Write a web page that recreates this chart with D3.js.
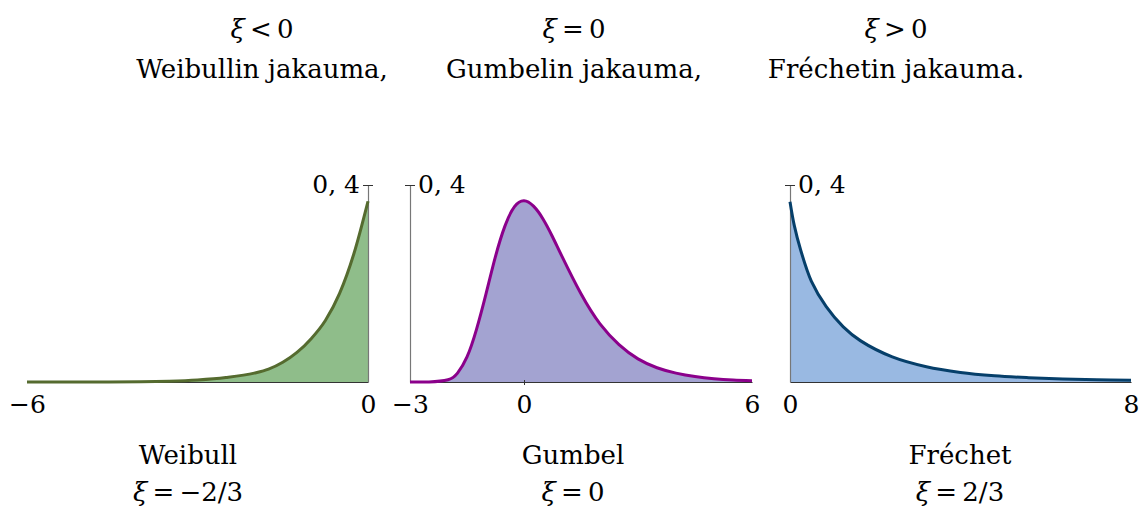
<!DOCTYPE html>
<html>
<head>
<meta charset="utf-8">
<script src="https://cdn.jsdelivr.net/npm/d3@7"></script>
<style>
  body { margin: 0; background: #fff; }
  svg text { font-family: "DejaVu Serif", "Liberation Serif", "Times New Roman", serif; fill: #000; }
  .math { font-style: italic; }
</style>
</head>
<body>
<div class="chart"></div>
<script>
// GEV DENSITIES - three panels
// values

const weibullX = [-6, -5, -4, -3.5, -3, -2.5, -2, -1.75, -1.5, -1.25, -1, -0.75, -0.5, -0.25, 0];
const weibullY = [0, 0.0001, 0.0005, 0.0015, 0.004, 0.009, 0.018, 0.026, 0.040, 0.060, 0.088, 0.125, 0.18, 0.26, 0.367];

const gumbelX = [-3, -2.5, -2, -1.75, -1.5, -1.25, -1, -0.75, -0.5, -0.25, 0, 0.25, 0.5, 0.75, 1, 1.5, 2, 2.5, 3, 3.5, 4, 4.5, 5, 5.5, 6];
const gumbelY = [0, 0.0001, 0.0046, 0.018, 0.051, 0.107, 0.179, 0.255, 0.317, 0.356, 0.368, 0.357, 0.331, 0.295, 0.255, 0.179, 0.118, 0.076, 0.047, 0.029, 0.018, 0.011, 0.0067, 0.0041, 0.0025];

const frechetX = [0, 0.1, 0.25, 0.5, 0.85, 1.25, 1.65, 2.4, 3.2, 4, 4.8, 5.6, 6.4, 7.2, 8];
const frechetY = [0.366, 0.318, 0.268, 0.205, 0.153, 0.112, 0.084, 0.051, 0.031, 0.0195, 0.0128, 0.0088, 0.006, 0.0045, 0.0035];

const xTicks = [[-6, 0], [-3, 0, 6], [0, 8]];
const yTicks = [0.4];

const topMath = ['ξ < 0', 'ξ = 0', 'ξ > 0'];
const topNames = ['Weibullin jakauma,', 'Gumbelin jakauma,', 'Fréchetin jakauma.'];
const bottomNames = ['Weibull', 'Gumbel', 'Fréchet'];
const bottomMath = ['ξ = −2/3', 'ξ = 0', 'ξ = 2/3'];

const width = 1139;
const height = 508;

const svg = d3.select('.chart')
  .append('svg')
    .attr('width', width)
    .attr('height', height);

// panel layout (pixel boxes)
const baseY = 382;
const topY = 185;
const panels = [
  { x: weibullX, y: weibullY, left: 27, right: 368, axisAt: 'right', fill: '#8fbd8a', stroke: '#556b2f', labelX: 262, bottomX: 188, curve: d3.curveMonotoneX },
  { x: gumbelX, y: gumbelY, left: 410, right: 752, axisAt: 'left', fill: '#a3a3d1', stroke: '#8b008b', labelX: 574, bottomX: 573, curve: d3.curveNatural },
  { x: frechetX, y: frechetY, left: 790, right: 1131, axisAt: 'left', fill: '#99b9e2', stroke: '#063f6a', labelX: 896, bottomX: 960, curve: d3.curveCatmullRom.alpha(0.5) }
];

const fontStack = '"DejaVu Serif", "Liberation Serif", serif';

panels.forEach((p, i) => {
  const data = p.x.map((v, j) => ({ x: v, y: p.y[j] }));

  const xScale = d3.scaleLinear()
    .domain(d3.extent(p.x))
    .range([p.left, p.right]);

  const yScale = d3.scaleLinear()
    .domain([0, 0.4])
    .range([baseY, topY]);

  const area = d3.area()
    .x(d => xScale(d.x))
    .y0(baseY)
    .y1(d => Math.min(baseY, yScale(d.y)))
    .curve(p.curve);

  const line = d3.line()
    .x(d => xScale(d.x))
    .y(d => yScale(d.y))
    .curve(p.curve);

  const g = svg.append('g');

  g.append('path')
    .datum(data)
    .attr('d', area)
    .attr('fill', p.fill);

  // x axis
  const xAxis = d3.axisBottom(xScale)
    .tickValues(xTicks[i])
    .tickSizeInner(0)
    .tickSizeOuter(0)
    .tickPadding(13)
    .tickFormat(d => d3.format('d')(d).replace('-', '−'));

  const gx = g.append('g')
    .attr('transform', `translate(0, ${baseY})`)
    .call(xAxis)
    .attr('font-family', fontStack);
  gx.select('.domain').attr('stroke', '#333').attr('stroke-width', 1);
  gx.selectAll('.tick line')
    .attr('stroke', '#333')
    .attr('y1', d => (i === 1 && d === 0) ? -2 : 0)
    .attr('y2', d => (i === 1 && d === 0) ? 3 : 0);
  gx.selectAll('.tick text')
    .style('font-size', '25px')
    .attr('dy', '0.71em');

  // y axis
  const axisX = p.axisAt === 'right' ? p.right : p.left;
  const yAxis = (p.axisAt === 'right' ? d3.axisLeft(yScale) : d3.axisRight(yScale))
    .tickValues(yTicks)
    .tickSizeOuter(0)
    .tickSizeInner(0)
    .tickPadding(8)
    .tickFormat(d => d3.format('.1f')(d).replace('.', ', '));

  const gy = g.append('g')
    .attr('transform', `translate(${axisX}, 0)`)
    .call(yAxis)
    .attr('font-family', fontStack);
  gy.select('.domain').attr('stroke', '#777').attr('stroke-width', 1.2);
  gy.selectAll('.tick line')
    .attr('stroke', '#333')
    .attr('x1', -5)
    .attr('x2', 5);
  gy.selectAll('.tick text')
    .style('font-size', '25px')
    .attr('dy', '0.3em');

  g.append('path')
    .datum(data)
    .attr('d', line)
    .attr('fill', 'none')
    .attr('stroke', p.stroke)
    .attr('stroke-width', 3);

  // headings
  const mathText = (sel, str) => {
    sel.append('tspan').attr('class', 'math').text(str[0]);
    sel.append('tspan').text(str.slice(1).replace(/ /g, '\u2009'));
  };

  svg.append('text')
    .attr('x', p.labelX).attr('y', 38)
    .attr('text-anchor', 'middle')
    .style('font-size', '26px')
    .call(mathText, topMath[i]);

  svg.append('text')
    .attr('x', p.labelX).attr('y', 78)
    .attr('text-anchor', 'middle')
    .style('font-size', '26px')
    .text(topNames[i]);

  svg.append('text')
    .attr('x', p.bottomX).attr('y', 464)
    .attr('text-anchor', 'middle')
    .style('font-size', '26px')
    .text(bottomNames[i]);

  svg.append('text')
    .attr('x', p.bottomX).attr('y', 501)
    .attr('text-anchor', 'middle')
    .style('font-size', '26px')
    .call(mathText, bottomMath[i]);
});
</script>
</body>
</html>
